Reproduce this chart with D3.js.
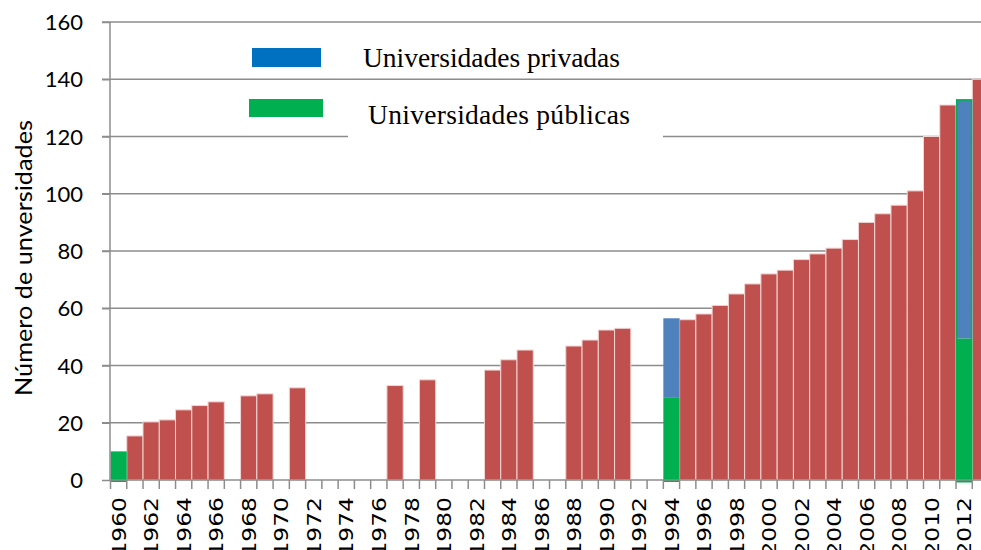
<!DOCTYPE html>
<html>
<head>
<meta charset="utf-8">
<script src="https://cdn.jsdelivr.net/npm/d3@7/dist/d3.min.js"></script>
<style>
  html, body { margin: 0; padding: 0; background: #fff; overflow: hidden; }
  svg { display: block; }
</style>
</head>
<body>
<svg id="chart" width="981" height="550"></svg>
<script>
// ---- data ----
const years = d3.range(1960, 2014);               // categories 1960..2013
const yTicks = [0, 20, 40, 60, 80, 100, 120, 140, 160];
const xLabelYears = d3.range(1960, 2013, 2);
// total universities (red bars)
const totalYears  = [1961,1962,1963,1964,1965,1966,1968,1969,1971,1977,1979,1983,1984,1985,1988,1989,1990,1991,1995,1996,1997,1998,1999,2000,2001,2002,2003,2004,2005,2006,2007,2008,2009,2010,2011,2013];
const totalValues = [15.4,20.3,21,24.5,26,27.3,29.4,30.1,32.2,33,35,38.4,42,45.4,46.8,48.9,52.4,53,56,58,61,65,68.5,72,73.3,77,79,81,84,90,93,96,101,120,131,140];
// split years: public / private
const splitYears   = [1960, 1994, 2012];
const publicValues = [10, 28.7, 49.4];
const privateValues= [0, 27.8, 83.6];
const legendLabels = ["Universidades privadas", "Universidades públicas"];

const colors = { total: "#C0504D", priv: "#4F81BD", pub: "#00B050", legPriv: "#0070C0", legPub: "#00B050" };

const svg = d3.select("#chart");
const x = d3.scaleBand().domain(years).range([110.5, 110.5 + 54 * 16.26]).paddingInner(0).paddingOuter(0);
const y = d3.scaleLinear().domain([0, 160]).range([480, 22]);
const gridColor = "#8c8c8c";

// gridlines
svg.append("g").selectAll("line").data(yTicks.filter(d => d > 0)).join("line")
  .attr("x1", 102).attr("x2", 981)
  .attr("y1", d => y(d)).attr("y2", d => y(d))
  .attr("stroke", gridColor).attr("stroke-width", 1.5);

// white box behind second legend entry (breaks 120 gridline)
svg.append("rect").attr("x", 348).attr("y", 88).attr("width", 315).attr("height", 51).attr("fill", "#fff");

// red total bars
const totals = totalYears.map((yr, i) => ({ yr, v: totalValues[i] }));
svg.append("g").selectAll("rect").data(totals).join("rect")
  .attr("x", d => x(d.yr)).attr("width", x.bandwidth())
  .attr("y", d => y(d.v)).attr("height", d => y(0) - y(d.v))
  .attr("fill", colors.total).attr("stroke", "#f0d6d5").attr("stroke-width", 1);

// stacked public/private bars
const splits = splitYears.map((yr, i) => ({ yr, pub: publicValues[i], priv: privateValues[i] }));
const gS = svg.append("g");
gS.selectAll("rect.priv").data(splits.filter(d => d.priv > 0)).join("rect").attr("class", "priv")
  .attr("x", d => x(d.yr)).attr("width", x.bandwidth())
  .attr("y", d => y(d.pub + d.priv)).attr("height", d => y(d.pub) - y(d.pub + d.priv))
  .attr("fill", colors.priv);
gS.selectAll("rect.pub").data(splits).join("rect").attr("class", "pub")
  .attr("x", d => x(d.yr)).attr("width", x.bandwidth())
  .attr("y", d => y(d.pub)).attr("height", d => y(0) - y(d.pub) + 2)
  .attr("fill", colors.pub);
gS.selectAll("rect.outline").data(splits.filter(d => d.yr === 2012)).join("rect").attr("class", "outline")
  .attr("x", d => x(d.yr) + 0.75).attr("width", x.bandwidth() - 1.5)
  .attr("y", d => y(d.pub + d.priv) + 0.75).attr("height", d => y(0) - y(d.pub + d.priv) + 1)
  .attr("fill", "none").attr("stroke", colors.pub).attr("stroke-width", 1.5);

// y axis
const yAxis = svg.append("g").attr("transform", "translate(110,0)")
  .call(d3.axisLeft(y).tickValues(yTicks).tickSize(8).tickPadding(0));
yAxis.select(".domain").attr("stroke", gridColor).attr("stroke-width", 1.5).attr("d", `M0,${y(160)}V${y(0)}`);
yAxis.selectAll(".tick line").attr("stroke", gridColor).attr("stroke-width", 1.5);
yAxis.selectAll(".tick text").attr("x", -27).attr("dy", "0.35em")
  .style("font-family", "Lato, 'Open Sans', sans-serif").style("font-size", "22px").attr("fill", "#000");

// x axis (ticks at category boundaries)
const xAxisG = svg.append("g");
xAxisG.append("line").attr("x1", 110).attr("x2", 981).attr("y1", y(0)).attr("y2", y(0))
  .attr("stroke", gridColor).attr("stroke-width", 1.5);
xAxisG.selectAll("line.tk").data(years).join("line").attr("class", "tk")
  .attr("x1", d => x(d)).attr("x2", d => x(d))
  .attr("y1", y(0)).attr("y2", y(0) + 9)
  .attr("stroke", gridColor).attr("stroke-width", 1.5);
xAxisG.selectAll("text").data(xLabelYears).join("text")
  .attr("transform", d => `translate(${x(d) + x.bandwidth() / 2},497) rotate(-90) scale(1.17,1)`)
  .attr("text-anchor", "end").attr("dy", "0.36em")
  .style("font-family", "'DejaVu Sans', sans-serif").style("font-size", "20px").attr("fill", "#000")
  .text(d => d);

// y axis title
svg.append("text").attr("transform", "translate(24,258) rotate(-90)")
  .attr("text-anchor", "middle").attr("dy", "0.35em")
  .attr("textLength", 276).attr("lengthAdjust", "spacingAndGlyphs")
  .style("font-family", "Lato, 'Open Sans', sans-serif").style("font-size", "24px").attr("fill", "#000")
  .text("Número de unversidades");

// legend
const leg = svg.append("g");
leg.append("rect").attr("x", 252).attr("y", 48).attr("width", 69).attr("height", 19).attr("fill", colors.legPriv);
leg.append("rect").attr("x", 249).attr("y", 99).attr("width", 74).attr("height", 18).attr("fill", colors.legPub);
leg.append("text").attr("x", 363).attr("y", 66.5).text(legendLabels[0])
  .attr("textLength", 257).attr("lengthAdjust", "spacing")
  .style("font-family", "'Liberation Serif', serif").style("font-size", "27.5px").attr("fill", "#000");
leg.append("text").attr("x", 368).attr("y", 124).text(legendLabels[1])
  .attr("textLength", 262).attr("lengthAdjust", "spacing")
  .style("font-family", "'Liberation Serif', serif").style("font-size", "27.5px").attr("fill", "#000");
</script>
</body>
</html>
